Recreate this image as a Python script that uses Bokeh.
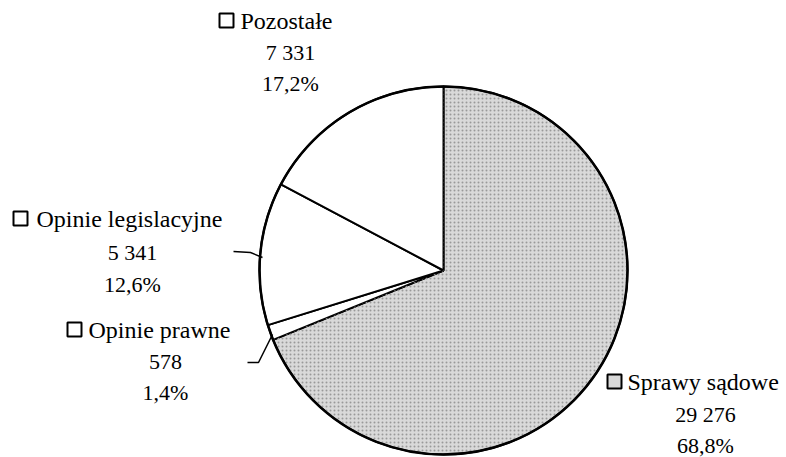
import math
from bokeh.plotting import figure
from bokeh.models import ColumnDataSource, Range1d
from bokeh.core.properties import value
from bokeh.embed import file_html
from bokeh.resources import INLINE

# ---- data ----
categories = ["Sprawy sądowe", "Opinie prawne", "Opinie legislacyjne", "Pozostałe"]
counts = [29276, 578, 5341, 7331]
count_labels = ["29 276", "578", "5 341", "7 331"]
pct_labels = ["68,8%", "1,4%", "12,6%", "17,2%"]

W, H = 786, 457
FONT = value("Liberation Serif")

def dx(sx):
    return sx

def dy(sy):
    return H - sy

p = figure(width=W, height=H, output_backend="svg", toolbar_location=None,
           x_range=Range1d(0, W), y_range=Range1d(0, H),
           x_axis_type=None, y_axis_type=None, min_border=0)
p.grid.visible = False
p.outline_line_color = None
p.background_fill_color = "white"
p.border_fill_color = "white"

total = sum(counts)
starts, ends = [], []
cum = 0.0
for c in counts:
    starts.append(math.radians(90 - cum / total * 360))
    cum += c
    ends.append(math.radians(90 - cum / total * 360))

fills = ["#d9d9d9", "white", "white", "white"]
src = ColumnDataSource(dict(cat=categories, start=starts, end=ends, fill=fills))

cx, cy, r = dx(443), dy(270), 184
p.wedge(x=cx, y=cy, radius=r, start_angle="start", end_angle="end",
        direction="clock", fill_color="fill", line_color="black", line_width=2,
        source=src)
# texture on the main slice
p.wedge(x=cx, y=cy, radius=r, start_angle=starts[0], end_angle=ends[0],
        direction="clock", fill_color=None, line_color=None,
        hatch_pattern="dot", hatch_color="#999999", hatch_scale=4, hatch_weight=1)
# outer outline
p.circle(x=cx, y=cy, radius=r, fill_color=None, line_color="black", line_width=2.5)

# leader lines
p.line(x=[dx(233), dx(250), dx(262)], y=[dy(251), dy(252), dy(257)],
       line_color="black", line_width=1.5)
p.line(x=[dx(247), dx(258), dx(272)], y=[dy(362), dy(362), dy(334)],
       line_color="black", line_width=1.5)

# labels: (index, name start x, numbers centre x, line y's, box centre x)
layout = [
    (3, 240, 290, [20, 52, 83], 226),
    (2, 36, 132, [218, 252, 284], 20),
    (1, 88, 165, [329, 361, 392], 74),
    (0, 627, 705, [381, 414, 445], 614),
]
for idx, nx, tx, ys, bx in layout:
    p.text(x=[dx(nx)], y=[dy(ys[0])], text=[categories[idx]], text_font=FONT,
           text_font_size="24px", text_align="left", text_baseline="middle",
           text_color="black")
    p.text(x=[dx(tx)], y=[dy(ys[1])], text=[count_labels[idx]], text_font=FONT,
           text_font_size="22px", text_align="center", text_baseline="middle",
           text_color="black")
    p.text(x=[dx(tx)], y=[dy(ys[2])], text=[pct_labels[idx]], text_font=FONT,
           text_font_size="22px", text_align="center", text_baseline="middle",
           text_color="black")
    p.rect(x=[dx(bx)], y=[dy(ys[0])], width=14, height=14,
           fill_color=fills[idx], line_color="black", line_width=2)

open("out.html", "w").write(file_html(p, INLINE))
